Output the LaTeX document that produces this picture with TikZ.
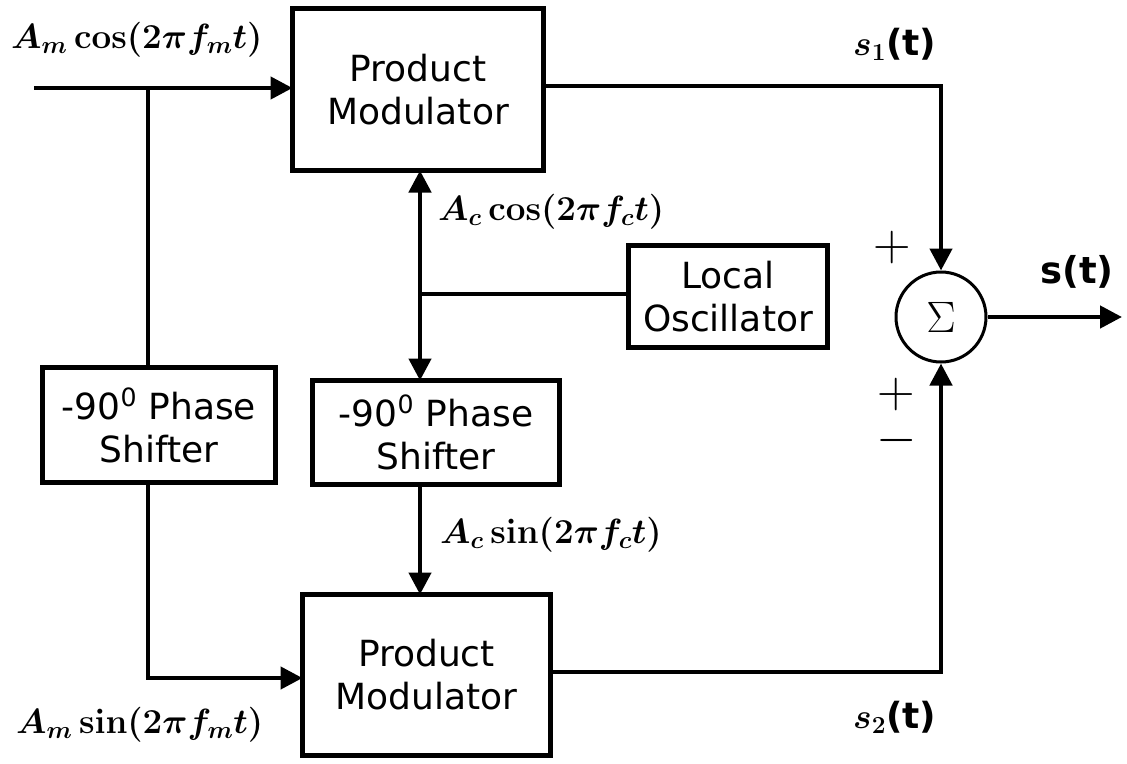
\RequirePackage{fix-cm}
\documentclass[tikz,border=0pt]{standalone}
\usepackage[no-math]{fontspec}
\usepackage{amsmath}
\usepackage{graphicx}
\newfontfamily\dejavu{DejaVu Sans}
\usetikzlibrary{arrows.meta}
\tikzset{
  blk/.style={draw, line width=5pt, inner sep=0pt, outer sep=0pt, align=center,
    font=\dejavu\fontsize{36}{43}\selectfont},
  wire/.style={line width=4.5pt},
  arr/.style={wire, -{Triangle[length=22pt,width=22pt]}},
  lbl/.style={inner sep=0pt, font=\fontsize{35}{38}\selectfont\boldmath},
  sgn/.style={inner sep=0pt, font=\fontsize{52}{52}\selectfont}
}
\newcommand{\tpar}{{\dejavu\bfseries\fontsize{36}{36}\selectfont(t)}}
\begin{document}
\begin{tikzpicture}[x=1pt,y=-1pt]
\useasboundingbox (0,0) rectangle (1127,763);
% blocks
\node[blk, minimum width=251pt, minimum height=162pt] (pm1) at (418,89.5) {Product\\Modulator};
\node[blk, minimum width=248pt, minimum height=161pt] (pm2) at (426.5,675) {Product\\Modulator};
\node[blk, minimum width=233pt, minimum height=115pt] (ps1) at (159,425) {-90\textsuperscript{0} Phase\\Shifter};
\node[blk, minimum width=247pt, minimum height=104pt] (ps2) at (436,432.5) {-90\textsuperscript{0} Phase\\Shifter};
\node[blk, minimum width=199pt, minimum height=102pt] (lo) at (728,296.5) {Local\\Oscillator};
\node[draw, circle, line width=3pt, minimum size=90pt, inner sep=0pt] (sum) at (941,317)
  {\fontsize{44}{44}\selectfont$\Sigma$};
% coordinates
\coordinate (in1) at (34,88);
\coordinate (b1) at (148,88);
\coordinate (c2) at (148,678);
\coordinate (o1) at (941,86);
\coordinate (o2) at (941,672);
\coordinate (out) at (1122,317);
\coordinate (j) at (420,294);
% connectors
\draw[arr] (in1) -- (in1 -| pm1.west);
\draw[wire] (b1) -- (b1 |- ps1.north);
\draw[arr] (b1 |- ps1.south) -- (c2) -- (c2 -| pm2.west);
\draw[arr] (o1 -| pm1.east) -- (o1) -- (sum.north);
\draw[arr] (o2 -| pm2.east) -- (o2) -- (sum.south);
\draw[arr] (sum.east) -- (out);
\draw[wire] (j -| lo.west) -- (j);
\draw[arr] (j) -- (j |- pm1.south);
\draw[arr] (j) -- (j |- ps2.north);
\draw[arr] (j |- ps2.south) -- (j |- pm2.north);
% labels
\node[lbl, anchor=base west] (l1) at (11,48) {$A_m\cos(2\pi f_m t)$};
\node[lbl, anchor=base west] (l2) at (16,733) {$A_m\sin(2\pi f_m t)$};
\node[lbl, anchor=base west] (l3) at (438,220) {$A_c\cos(2\pi f_c t)$};
\node[lbl, anchor=base west] (l4) at (440,543) {$A_c\sin(2\pi f_c t)$};
\node[lbl, anchor=base west] (s1) at (853,55) {$s_1$\tpar};
\node[lbl, anchor=base west] (s2) at (853,728) {$s_2$\tpar};
\node[inner sep=0pt, anchor=base] (st) at (1077,283) {\dejavu\bfseries\fontsize{37}{37}\selectfont s(t)};
\node[sgn] (p1) at (892,247) {$+$};
\node[sgn] (p2) at (896,394) {$+$};
\node[sgn] (m2) at (897,440) {$-$};
\end{tikzpicture}
\end{document}
